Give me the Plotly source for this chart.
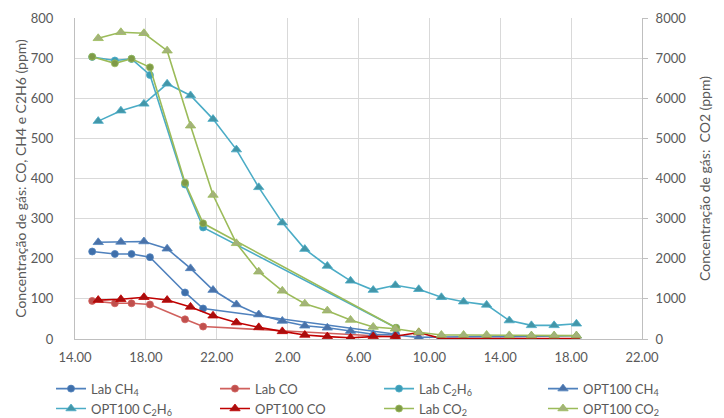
import plotly.graph_objects as go

# time in hours since midnight of day 1 (values > 24 are next day)
lab_t = [14.97, 16.25, 17.19, 18.23, 20.21, 21.23, 32.12]
opt_t = [15.31, 16.59, 17.89, 19.20, 20.52, 21.79, 23.11, 24.37, 25.70, 26.97, 28.24,
         29.55, 30.83, 32.08, 33.40, 34.68, 35.93, 37.23, 38.51, 39.76, 41.04, 42.30]

lab_ch4 = [218, 212, 212, 204, 116, 76, 12]
lab_co = [95, 89, 89, 86, 49, 31, 5]
lab_c2h6 = [703, 694, 698, 658, 385, 278, 28]
lab_co2 = [7036, 6870, 6985, 6770, 3895, 2883, 280]

opt_ch4 = [241, 242, 243, 225, 176, 122, 86, 61, 45, 33, 28, 20, 12, 10, 4, 5, 6, 6, 6, 7, 7, 8]
opt_c2h6 = [543, 569, 586, 636, 607, 548, 472, 378, 290, 224, 182, 145, 122, 134, 124, 104,
            93, 85, 46, 34, 34, 38]
opt_co = [97, 99, 104, 97, 80, 58, 41, 29, 19, 10, 6, 3, 6, 7, 16, 1, 1, 1, 1, 1, 1, 1]
opt_co2 = [7494, 7644, 7620, 7185, 5316, 3589, 2385, 1677, 1200, 880, 706, 474, 300, 255,
           170, 100, 100, 100, 90, 85, 85, 85]

x_tickvals = [14, 18, 22, 26, 30, 34, 38, 42, 46]
x_ticktext = ["14.00", "18.00", "22.00", "2.00", "6.00", "10.00", "14.00", "18.00", "22.00"]

FONT = "Lato, 'Open Sans', sans-serif"
TXT = "#595959"
GRID = "#D9D9D9"

def tr(name, x, y, color, mcolor, symbol, legend, yaxis="y", size=7):
    return go.Scatter(
        x=x, y=y, name=name, yaxis=yaxis, mode="lines+markers", legend=legend,
        line=dict(color=color, width=1.6),
        marker=dict(symbol=symbol, size=size, color=mcolor,
                    line=dict(color=color, width=0.8)),
    )

fig = go.Figure()
fig.add_trace(tr("Lab CH<sub>4</sub>", lab_t, lab_ch4, "#4F81BD", "#3F6FAA", "circle", "legend"))
fig.add_trace(tr("Lab CO", lab_t, lab_co, "#D0605D", "#C0504D", "circle", "legend2"))
fig.add_trace(tr("Lab C<sub>2</sub>H<sub>6</sub>", lab_t, lab_c2h6, "#4BACC6", "#3C9CB6", "circle", "legend3"))
fig.add_trace(tr("OPT100 CH<sub>4</sub>", opt_t, opt_ch4, "#4F81BD", "#4A72A8", "triangle-up", "legend4", size=9))
fig.add_trace(tr("OPT100 C<sub>2</sub>H<sub>6</sub>", opt_t, opt_c2h6, "#4BACC6", "#4396A8", "triangle-up", "legend", size=9))
fig.add_trace(tr("OPT100 CO", opt_t, opt_co, "#C00000", "#A80E0E", "triangle-up", "legend2", size=9))
fig.add_trace(tr("Lab CO<sub>2</sub>", lab_t, lab_co2, "#9BBB59", "#7F9A48", "circle", "legend3", yaxis="y2"))
fig.add_trace(tr("OPT100 CO<sub>2</sub>", opt_t, opt_co2, "#9BBB59", "#A3B27A", "triangle-up", "legend4", yaxis="y2", size=9))

def leg(x):
    return dict(orientation="v", x=x, xanchor="left", y=-0.108, yanchor="top",
                traceorder="normal", tracegroupgap=0, itemwidth=30,
                font=dict(size=13, color=TXT), bgcolor="rgba(0,0,0,0)")

fig.update_layout(
    width=724, height=418,
    margin=dict(l=67, r=90, t=10, b=87, autoexpand=False),
    paper_bgcolor="white", plot_bgcolor="white",
    font=dict(family=FONT, size=13, color=TXT),
    xaxis=dict(range=[14, 46], tickvals=x_tickvals, ticktext=x_ticktext,
               showgrid=True, gridcolor=GRID, gridwidth=1,
               showline=True, linecolor="#BFBFBF", linewidth=1,
               ticks="outside", ticklen=6, tickcolor="rgba(0,0,0,0)",
               zeroline=False, tickfont=dict(size=13, color=TXT)),
    yaxis=dict(range=[0, 800], dtick=100, showgrid=True, gridcolor=GRID, gridwidth=1,
               showline=True, linecolor="#BFBFBF", linewidth=1, zeroline=False,
               ticks="outside", ticklen=18, tickcolor="rgba(0,0,0,0)",
               tickfont=dict(size=13, color=TXT),
               title=dict(text="Concentração de gás: CO, CH4 e C2H6 (ppm)",
                          font=dict(size=14, color=TXT), standoff=0)),
    yaxis2=dict(range=[0, 8000], dtick=1000, overlaying="y", side="right",
                showgrid=False, showline=True, linecolor="#BFBFBF", linewidth=1,
                zeroline=False, ticks="outside", ticklen=5, tickcolor="#BFBFBF",
                ticklabelstandoff=5,
                tickfont=dict(size=13, color=TXT),
                title=dict(text="Concentração de gás:\u00a0 CO2 (ppm)",
                           font=dict(size=14, color=TXT), standoff=14)),
    legend=leg(-0.0423),
    legend2=leg(0.2469),
    legend3=leg(0.5362),
    legend4=leg(0.8254),
)

fig.write_html("out.html")
